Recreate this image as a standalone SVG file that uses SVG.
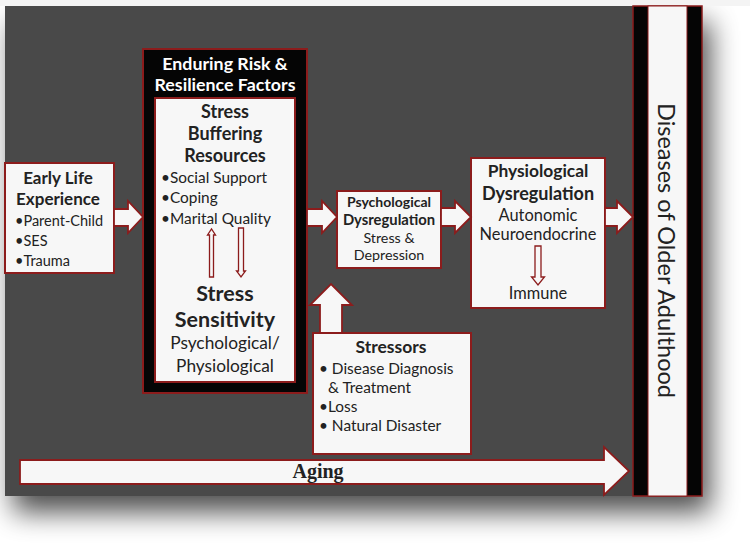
<svg xmlns="http://www.w3.org/2000/svg" width="750" height="545" viewBox="0 0 750 545">
<defs>
<filter id="shadow" x="-10%" y="-10%" width="130%" height="130%">
<feGaussianBlur in="SourceAlpha" stdDeviation="14"/>
<feOffset dx="8" dy="16" result="b"/>
<feComponentTransfer><feFuncA type="linear" slope="0.7"/></feComponentTransfer>
<feMerge><feMergeNode/><feMergeNode in="SourceGraphic"/></feMerge>
</filter>
</defs>
<style>
.box{fill:#f7f7f7;stroke:#8c1c1c;stroke-width:2}
.arr{fill:#f7f7f7;stroke:#8c1c1c;stroke-width:1.8;stroke-linejoin:miter}
.thin{fill:#f7f7f7;stroke:#8c1c1c;stroke-width:1.3}
.t{font-family:Lato,"Liberation Sans",sans-serif;fill:#222}
.b{font-weight:bold}
.c{text-anchor:middle}
.w{fill:#fff}
</style>
<rect width="750" height="545" fill="#ffffff"/>
<rect x="5" y="6" width="697" height="490" fill="#494949" filter="url(#shadow)"/>
<rect x="0" y="0" width="750" height="6" fill="#f4f4f4"/>

<g id="diseases">
<rect x="633" y="6" width="69" height="490" fill="#050505" stroke="#8c1c1c" stroke-width="1.5"/>
<rect x="648" y="6" width="39" height="490" fill="#f7f7f7" stroke="#8c1c1c" stroke-width="1"/>
<text class="t" x="0" y="0" font-size="23.5" transform="translate(667,250.5) rotate(90)" text-anchor="middle" dominant-baseline="central">Diseases of Older Adulthood</text>
</g>

<g id="early-life">
<rect class="box" x="5" y="163" width="109" height="110"/>
<text class="t b c" x="58" y="184" font-size="17">Early Life</text>
<text class="t b c" x="58" y="205" font-size="17">Experience</text>
<text class="t" x="15" y="226" font-size="14.5">•Parent-Child</text>
<text class="t" x="15" y="246" font-size="14.5">•SES</text>
<text class="t" x="15" y="266" font-size="14.5">•Trauma</text>
</g>

<g id="enduring">
<rect x="143" y="49" width="164" height="344" fill="#050505" stroke="#8c1c1c" stroke-width="2"/>
<text class="t b c w" x="225" y="70" font-size="17.8">Enduring Risk &amp;</text>
<text class="t b c w" x="225" y="91" font-size="17.8">Resilience Factors</text>
<rect class="box" x="155" y="98" width="140" height="284"/>
<text class="t b c" x="225" y="118" font-size="18">Stress</text>
<text class="t b c" x="225" y="140" font-size="18">Buffering</text>
<text class="t b c" x="225" y="162" font-size="18">Resources</text>
<text class="t" x="161" y="183" font-size="15.4">•Social Support</text>
<text class="t" x="161" y="203" font-size="15.4">•Coping</text>
<text class="t" x="161" y="224" font-size="15.4">•Marital Quality</text>
<text class="t b c" x="225" y="301" font-size="21.5">Stress</text>
<text class="t b c" x="225" y="327" font-size="21.5">Sensitivity</text>
<text class="t c" x="225" y="349" font-size="17.3">Psychological/</text>
<text class="t c" x="225" y="372" font-size="17.3">Physiological</text>
</g>

<g id="psych">
<rect class="box" x="337" y="191" width="104" height="77"/>
<text class="t b c" x="389" y="207" font-size="14">Psychological</text>
<text class="t b c" x="389" y="225" font-size="14.8">Dysregulation</text>
<text class="t c" x="389" y="243" font-size="14.3">Stress &amp;</text>
<text class="t c" x="389" y="260" font-size="14.3">Depression</text>
</g>

<g id="physio">
<rect class="box" x="471" y="158" width="134" height="150"/>
<text class="t b c" x="538" y="177" font-size="17.4">Physiological</text>
<text class="t b c" x="538" y="200" font-size="18">Dysregulation</text>
<text class="t c" x="538" y="221" font-size="16.4">Autonomic</text>
<text class="t c" x="538" y="240" font-size="16.4">Neuroendocrine</text>
<text class="t c" x="538" y="299" font-size="16.4">Immune</text>
</g>

<g id="stressors">
<rect class="box" x="313" y="333" width="158" height="121"/>
<text class="t b c" x="391" y="353" font-size="17.5">Stressors</text>
<text class="t" x="319" y="374" font-size="15.4">• Disease Diagnosis</text>
<text class="t" x="328" y="393" font-size="15.4">&amp; Treatment</text>
<text class="t" x="319" y="412" font-size="15.4">•Loss</text>
<text class="t" x="319" y="431" font-size="15.4">• Natural Disaster</text>
</g>

<g id="aging">
<polygon class="arr" points="20,460 604,460 604,447 629,471 604,495 604,484 20,484"/>
<text x="318" y="477.5" font-family="'Liberation Serif',serif" font-weight="bold" font-size="20" text-anchor="middle" fill="#222">Aging</text>
</g>

<g id="connectors">
<polygon class="arr" points="114,209 128,209 128,201 143,217 128,233 128,226 114,226"/>
<polygon class="arr" points="307,209 322,209 322,201 337,217 322,233 322,226 307,226"/>
<polygon class="arr" points="441,208 455,208 455,201 471,217 455,233 455,226 441,226"/>
<polygon class="arr" points="605,208 617,208 617,201 633,217 617,233 617,226 605,226"/>
<polygon class="arr" points="320,333 320,305 310,305 331,284 352,305 342,305 342,333"/>
<polygon class="thin" points="209.5,277 209.5,235 207.5,235 211.5,229 215.5,235 213.5,235 213.5,277"/>
<polygon class="thin" points="238.5,228 238.5,271 236.5,271 241,277 245.5,271 243.5,271 243.5,228"/>
<polygon class="thin" points="535,246 535,277 531.5,277 538,285 544.5,277 541,277 541,246"/>
</g>
</svg>
